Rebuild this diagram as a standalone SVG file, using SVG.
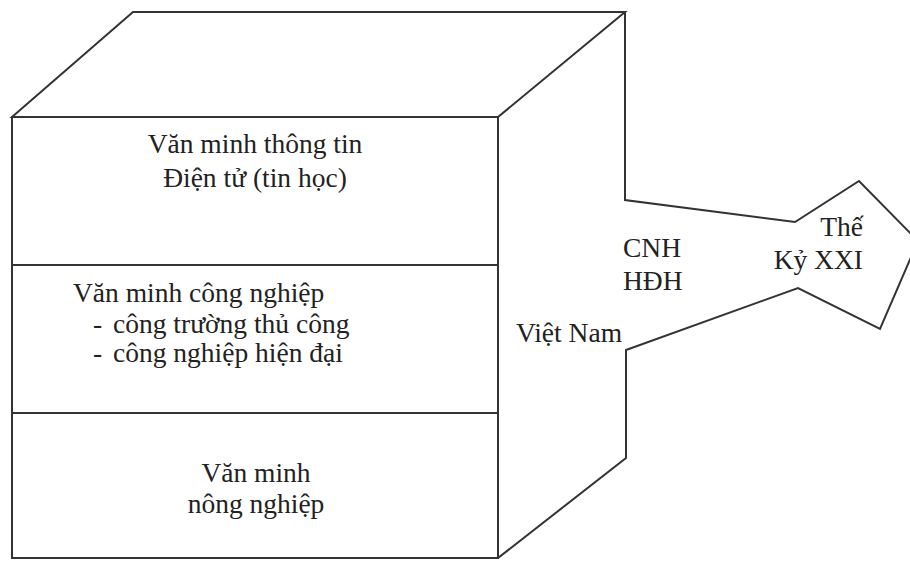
<svg xmlns="http://www.w3.org/2000/svg" width="910" height="561" viewBox="0 0 910 561">
<style>
.ln{fill:none;stroke:#333;stroke-width:2;stroke-linejoin:miter}
.t{font-family:"Liberation Serif","Times New Roman",serif;font-size:27.5px;fill:#222}
.c{text-anchor:middle}
.e{text-anchor:end}
</style>
<rect width="910" height="561" fill="#fff"/>
<g id="connectors">
<polyline class="ln" points="625,12 625,200 795,222 859,181 918,241 880,329 798,288 626,350 626,458 498,558"/>
</g>
<g id="top-face">
<polygon class="ln" points="12,117 133,12 625,12 498,117"/>
</g>
<g id="front-face">
<rect class="ln" x="12" y="117" width="486" height="441"/>
</g>
<g id="info-civilization">
<line class="ln" x1="12" y1="265" x2="498" y2="265"/>
<text class="t c" x="255" y="153">Văn minh thông tin</text>
<text class="t c" x="255" y="187">Điện tử (tin học)</text>
</g>
<g id="industrial-civilization">
<line class="ln" x1="12" y1="413" x2="498" y2="413"/>
<text class="t" x="73" y="302">Văn minh công nghiệp</text>
<text class="t" x="93" y="333">-</text>
<text class="t" x="113" y="333">công trường thủ công</text>
<text class="t" x="93" y="362">-</text>
<text class="t" x="113" y="362">công nghiệp hiện đại</text>
</g>
<g id="agricultural-civilization">
<text class="t c" x="256" y="482">Văn minh</text>
<text class="t c" x="256" y="513">nông nghiệp</text>
</g>
<g id="vietnam">
<text class="t" x="516" y="342">Việt Nam</text>
<text class="t" x="623" y="257">CNH</text>
<text class="t" x="623" y="290">HĐH</text>
</g>
<g id="century-21">
<text class="t e" x="863" y="236">Thế</text>
<text class="t e" x="863" y="269">Kỷ XXI</text>
</g>
</svg>
